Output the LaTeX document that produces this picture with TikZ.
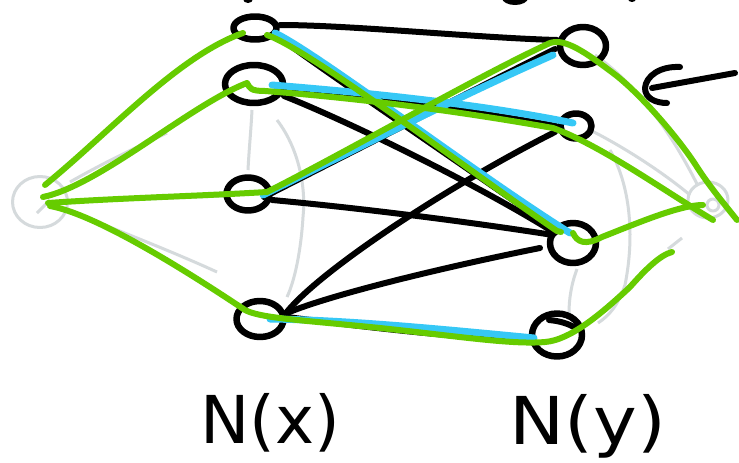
\documentclass[tikz,border=0pt]{standalone}
\usepackage{fontspec}
\newfontfamily\handfont{DejaVu Sans}
\usetikzlibrary{shapes.geometric,calc}
\definecolor{cGreen}{HTML}{66CC00}
\definecolor{cBlue}{HTML}{36C8F6}
\definecolor{cGrey}{HTML}{D5DADC}
\pgfdeclarelayer{bg}
\pgfsetlayers{bg,main}
\begin{document}
\begin{tikzpicture}[x=1pt,y=-1pt,line cap=round,line join=round,
  vtx/.style={draw=black,line width=6.5pt,ellipse,inner sep=0pt},
  src/.style={draw=cGrey,line width=3pt,ellipse,inner sep=0pt},
  blk/.style={draw=black,line width=6pt},
  blu/.style={draw=cBlue,line width=7pt},
  grn/.style={draw=cGreen,line width=6pt},
  gry/.style={draw=cGrey,line width=3pt},
  lbl/.style={anchor=base,inner sep=0pt,text=black}]
\useasboundingbox (0,0) rectangle (739,463);
\clip (0,0) rectangle (739,463);

% vertices
\node[vtx,minimum width=43pt,minimum height=23pt] (L1) at (255,28) {};
\node[vtx,minimum width=58pt,minimum height=38pt] (L2) at (254,84) {};
\node[vtx,minimum width=43pt,minimum height=33pt] (L3) at (248,194) {};
\node[vtx,minimum width=47pt,minimum height=36pt] (L4) at (260,319) {};
\node[vtx,minimum width=46pt,minimum height=38pt] (R1) at (583,46) {};
\node[vtx,minimum width=31pt,minimum height=25pt] (R2) at (576,126) {};
\node[vtx,minimum width=46pt,minimum height=40pt] (R3) at (573,243) {};
\node[vtx,minimum width=50pt,minimum height=43pt] (R4) at (557,335) {};
\node[src,minimum width=55pt,minimum height=51pt] (s) at (40,202) {};
\node[src,minimum width=40pt,minimum height=36pt] (t) at (708,200) {};
\draw[gry] ($(t)+(5,5)$) circle (6pt);

% faint grey sketch lines
\begin{pgfonlayer}{bg}
\fill[white] (0,0) rectangle (739,463);
\draw[gry] ($(s)+(30,-20)$) .. controls (100,165) and (130,150) .. (167,133);
\draw[gry] ($(s)+(32,10)$) .. controls (130,235) and (180,255) .. (217,272);
\draw[gry] ($(s)+(28,0)$) -- ($(L3)+(-25,2)$);
\draw[gry] ($(s)+(-3,11)$) -- ($(s)+(10,-2)$);
\draw[gry] ($(L2)+(-2,26)$) .. controls (251,130) and (249,150) .. ($(L3)+(0,-24)$);
\draw[gry] (277,120) .. controls (300,150) and (306,190) .. (303,217) .. controls (301,250) and (295,280) .. (287,297);
\draw[gry] ($(R1)+(12,9)$) .. controls (630,80) and (665,120) .. ($(t)+(-10,-14)$);
\draw[gry] ($(R2)+(14,4)$) .. controls (620,145) and (660,170) .. ($(t)+(-18,-5)$);
\draw[gry] (610,150) .. controls (630,185) and (635,235) .. (625,285) .. controls (618,305) and (610,315) .. (598,323);
\draw[gry] ($(R3)+(4,26)$) .. controls (571,285) and (569,300) .. ($(R4)+(12,-22)$);
\draw[gry] ($(t)+(-26,38)$) -- (668,249);
\end{pgfonlayer}

% black edges
\draw[blk] ($(L1)+(25,-3)$) .. controls (350,25) and (480,38) .. ($(R1)+(-26,-6)$);
\draw[blk] ($(L1)+(22,8)$) .. controls (330,75) and (470,170) .. ($(R3)+(-20,-15)$);
\draw[blk] ($(L2)+(30,12)$) .. controls (340,118) and (470,180) .. ($(R3)+(-18,-10)$);
\draw[blk] ($(L2)+(22,2)$) .. controls (370,97) and (480,112) .. ($(R2)+(-20,0)$);
\draw[blk] ($(L3)+(16,3)$) .. controls (360,148) and (460,97) .. ($(R1)+(-28,3)$);
\draw[blk] ($(L3)+(24,6)$) .. controls (360,208) and (470,222) .. ($(R3)+(-20,-8)$);
\draw[blk] ($(L4)+(26,-6)$) .. controls (320,270) and (450,185) .. ($(R2)+(-21,6)$);
\draw[blk] ($(L4)+(27,-6)$) .. controls (330,295) and (440,268) .. ($(R3)+(-33,5)$);
\draw[blk] ($(L4)+(27,-2)$) .. controls (350,325) and (450,338) .. ($(R4)+(-24,5)$);
\draw[blk] ($(R4)+(-8,-15)$) .. controls (560,321) and (570,324) .. ($(R4)+(20,-6)$);

% blue matching
\draw[blu] ($(L1)+(20,5)$) .. controls (320,55) and (470,170) .. ($(R3)+(-3,-10)$);
\draw[blu] ($(L2)+(18,1)$) .. controls (370,93) and (480,104) .. ($(R2)+(-3,-3)$);
\draw[blu] ($(L3)+(15,1)$) .. controls (360,147) and (460,96) .. ($(R1)+(-30,9)$);
\draw[blu] ($(L4)+(10,0)$) .. controls (350,320) and (450,330) .. ($(R4)+(-23,3)$);

% green paths
\draw[grn] ($(s)+(5,-17)$) .. controls (110,132) and (178,56) .. ($(L1)+(-12,5)$);
\draw[grn] ($(L1)+(12,7)$) .. controls (310,50) and (465,168) .. ($(R3)+(-16,-12)$) -- ($(R3)+(-12,-11)$);
\draw[grn] ($(R3)+(0,-10)$) .. controls (577,242) and (585,246) .. (602,237) .. controls (640,222) and (680,205) .. ($(t)+(-5,5)$);
\draw[grn] ($(s)+(3,-5)$) .. controls (100,185) and (190,105) .. ($(L2)+(-7,-1)$) .. controls (250,88) and (250,91) .. (265,91) .. controls (380,100) and (480,115) .. ($(R2)+(-23,2)$) .. controls (600,145) and (660,188) .. ($(t)+(5,20)$);
\draw[grn] ($(s)+(8,1)$) .. controls (120,198) and (200,196) .. ($(L3)+(19,-2)$) .. controls (350,150) and (480,75) .. ($(R1)+(-33,-3)$) .. controls (565,38) and (585,52) .. (613,73) .. controls (640,93) and (680,140) .. (697,167) .. controls (710,187) and (725,205) .. (737,220);
\draw[grn] ($(s)+(10,4)$) .. controls (100,215) and (200,280) .. ($(L4)+(-15,-9)$) .. controls (260,318) and (300,320) .. (370,327) .. controls (450,335) and (510,345) .. ($(R4)+(-12,7)$) .. controls (570,340) and (600,315) .. (630,287) .. controls (645,270) and (660,255) .. (672,252);

% arrow
\coordinate (atail) at (735,73);
\coordinate (ahead) at (652,88);
\draw[blk] (atail) -- (ahead);
\draw[blk] (680,67) .. controls (660,66) and (646,76) .. (645,88) .. controls (645,98) and (655,103) .. (667,103);

% cut-off marks at top
\fill (248,-1) ellipse (5pt and 4pt);
\fill (515,-2) ellipse (13pt and 7pt);
\fill (632,-1) ellipse (4pt and 3pt);

% labels
\node[lbl,font=\handfont\fontsize{66}{66}\selectfont] (lx) at (270,443) {N(x)};
\node[lbl,font=\handfont\fontsize{66}{66}\selectfont] (ly) at (588,444) {\scalebox{1.12}[1]{N(y)}};
\end{tikzpicture}
\end{document}
